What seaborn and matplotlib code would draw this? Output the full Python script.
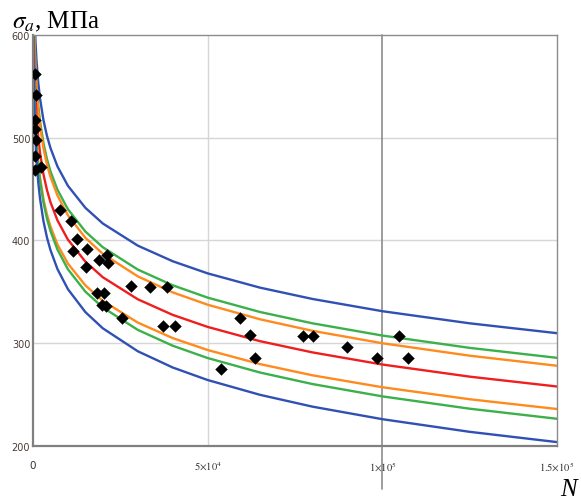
import numpy as np
import pandas as pd
import matplotlib
matplotlib.use("Agg")
import matplotlib.pyplot as plt
import seaborn as sns

# ---------------- data ----------------
N_curve = [100, 150, 200, 300, 400, 500, 700, 1000, 1500, 2000, 3000, 4000, 5000,
           7000, 10000, 15000, 20000, 30000, 40000, 50000, 65000, 80000, 100000,
           125000, 150000]

blue_upper = [697.2, 675.7, 660.5, 639.0, 623.8, 612.0, 594.1, 575.2, 553.8, 538.5, 517.0,
              501.8, 490.0, 472.1, 453.2, 431.8, 416.5, 395.0, 379.8, 368.0, 354.1, 343.1,
              331.2, 319.4, 309.8]
green_upper = [676.1, 654.5, 639.1, 617.5, 602.1, 590.2, 572.3, 553.2, 531.6, 516.2, 494.6,
               479.3, 467.3, 449.4, 430.4, 408.7, 393.4, 371.7, 356.4, 344.4, 330.4, 319.4,
               307.5, 295.5, 285.8]
orange_upper = [673.5, 651.6, 636.0, 614.1, 598.5, 586.5, 568.3, 549.0, 527.1, 511.5, 489.6,
                474.0, 462.0, 443.8, 424.5, 402.6, 387.0, 365.1, 349.5, 337.5, 323.3, 312.1,
                300.0, 287.9, 278.1]
red_mean = [643.7, 622.3, 607.1, 585.7, 570.5, 558.8, 541.0, 522.2, 500.8, 485.6, 464.3,
            449.1, 437.3, 419.6, 400.8, 379.4, 364.2, 342.8, 327.6, 315.9, 302.0, 291.1,
            279.3, 267.5, 257.9]
orange_lower = [618.0, 596.8, 581.8, 560.6, 545.6, 534.0, 516.4, 497.7, 476.6, 461.5, 440.3,
                425.3, 413.7, 396.1, 377.5, 356.3, 341.2, 320.1, 305.0, 293.4, 279.7, 268.8,
                257.2, 245.5, 236.0]
green_lower = [619.4, 597.6, 582.2, 560.4, 544.9, 533.0, 514.9, 495.7, 473.9, 458.5, 436.7,
               421.2, 409.3, 391.2, 372.0, 350.2, 334.8, 313.0, 297.6, 285.6, 271.5, 260.3,
               248.3, 236.3, 226.5]
blue_lower = [605.6, 583.3, 567.5, 545.2, 529.4, 517.2, 498.7, 479.1, 456.8, 441.0, 418.7,
              402.9, 390.7, 372.2, 352.6, 330.3, 314.5, 292.2, 276.4, 264.2, 249.8, 238.3,
              226.1, 213.8, 203.8]

N_points = [660, 950, 480, 660, 950, 660, 660, 2380, 7630, 10970,
            12510, 11540, 15370, 15170, 18890, 21270, 21560, 18410, 20320, 19660, 20900,
            25390, 28050,
            33490, 38270, 37130, 40650, 59260, 62120, 63550, 53820,
            77380, 80070, 89980, 98390, 104860, 107440]
sigma_points = [562, 542, 517, 509, 498, 482, 469, 472, 430, 419,
                401, 390, 392, 374, 381, 386, 378, 349, 349, 337, 336,
                325, 356,
                355, 355, 317, 317, 325, 308, 286, 275,
                307, 307, 296, 286, 307, 286]

x_ticks = [0, 50000, 100000, 150000]
x_tick_labels = ["0", r"$5{\times}10^{4}$", r"$1{\times}10^{5}$", r"$1.5{\times}10^{5}$"]
y_ticks = [200, 300, 400, 500, 600]
y_tick_labels = ["200", "300", "400", "500", "600"]

curve_names = ["blue_upper", "green_upper", "orange_upper", "red_mean",
               "orange_lower", "green_lower", "blue_lower"]
curve_values = [blue_upper, green_upper, orange_upper, red_mean,
                orange_lower, green_lower, blue_lower]

# ---------------- style ----------------
sns.set_style("white")
plt.rcParams["mathtext.fontset"] = "stix"

BLUE = "#3050b4"
GREEN = "#3cb04a"
ORANGE = "#ff8a1e"
RED = "#f01e1e"
palette = {"blue_upper": BLUE, "green_upper": GREEN, "orange_upper": ORANGE,
           "red_mean": RED, "orange_lower": ORANGE, "green_lower": GREEN,
           "blue_lower": BLUE}

rows = []
for name, vals in zip(curve_names, curve_values):
    for n, s in zip(N_curve, vals):
        rows.append({"N": n, "sigma": s, "curve": name})
df_curves = pd.DataFrame(rows)
df_pts = pd.DataFrame({"N": N_points, "sigma": sigma_points})

W, H = 581, 502
fig = plt.figure(figsize=(W / 100, H / 100), dpi=100)
L, R, B, T = 33, 557, 447, 36
ax = fig.add_axes([L / W, 1 - B / H, (R - L) / W, (B - T) / H])

# grid
for yv in y_ticks[1:-1]:
    ax.axhline(yv, color="#d6d6d6", lw=1.0, zorder=0)
ax.axvline(x_ticks[1], color="#d6d6d6", lw=1.0, zorder=0)
ax.axvline(x_ticks[2], ymin=-0.105, ymax=1, color="#8c8c8c", lw=1.2,
           zorder=0, clip_on=False)

sns.lineplot(data=df_curves, x="N", y="sigma", hue="curve", palette=palette,
             estimator=None, sort=False, units="curve", legend=False,
             linewidth=1.7, ax=ax, zorder=2)
sns.scatterplot(data=df_pts, x="N", y="sigma", marker="D", s=36, color="black",
                edgecolor="black", linewidth=0.3, ax=ax, zorder=3)

ax.set_xlim(0, 150000)
ax.set_ylim(200, 600)
ax.set_xlabel("")
ax.set_ylabel("")
ax.set_xticks(x_ticks)
ax.set_xticklabels(x_tick_labels)
ax.set_yticks(y_ticks)
ax.set_yticklabels(y_tick_labels)
ax.tick_params(axis="both", length=0, labelsize=7, colors="#4a3c34")
ax.tick_params(axis="x", pad=10, labelsize=7.5, colors="#333333")
ax.tick_params(axis="y", pad=2)

for side in ["left", "bottom"]:
    ax.spines[side].set_color("#808080")
    ax.spines[side].set_linewidth(1.6)
for side in ["top", "right"]:
    ax.spines[side].set_visible(True)
    ax.spines[side].set_color("#8c8c8c")
    ax.spines[side].set_linewidth(1.0)

fig.text(12 / W, 1 - 28 / H, r"$\sigma_a$, МПа", fontsize=18,
         family="Liberation Serif", color="black", va="baseline", ha="left")
fig.text(569 / W, 1 - 496 / H, "N", fontsize=18, family="Liberation Serif",
         style="italic", color="black", va="baseline", ha="center")

fig.savefig("out.png", dpi=100)
